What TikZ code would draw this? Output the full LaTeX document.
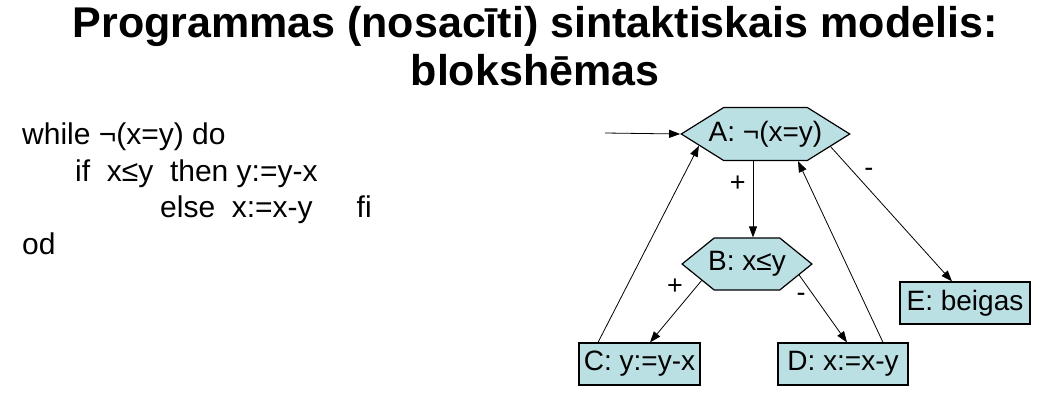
\documentclass[tikz,border=0pt]{standalone}
\usepackage{fontspec}
\setmainfont{Liberation Sans}
\usetikzlibrary{arrows.meta,shapes.symbols}
\definecolor{blokfill}{RGB}{187,224,227}

\begin{document}
\begin{tikzpicture}[x=1pt,y=-1pt,
    title/.style = {font=\fontsize{43}{48}\selectfont\bfseries, inner sep=0pt},
    code/.style = {font=\fontsize{30}{36}\selectfont, inner sep=0pt, anchor=base west},
    hexa/.style = {shape=signal, signal to=west and east,
      draw, line width=1.2pt, fill=blokfill, inner ysep=2pt,
      font=\fontsize{28}{32}\selectfont},
    blok/.style = {shape=rectangle, draw, line width=1.2pt, fill=blokfill,
      minimum height=42pt, inner sep=2pt, font=\fontsize{28}{32}\selectfont},
    lbl/.style = {font=\fontsize{27}{30}\selectfont, inner sep=1pt},
    arr/.style = {-{Triangle[length=11pt,width=8pt]}, line width=0.8pt}]
    \useasboundingbox (0,0) rectangle (1049,413);

    \node (title1) [title, anchor=base] at (535,37) {Programmas (nosacīti) sintaktiskais modelis:};
    \node (title2) [title, anchor=base] at (535,85) {blokshēmas};

    \node (line1) [code] at (22,144) {while ¬(x=y) do};
    \node (line2) [code] at (75,181) {if\ \ x≤y\ \ then y:=y-x};
    \node (line3) [code] at (160,217) {else\ \ x:=x-y\hspace{44pt}fi};
    \node (line4) [code] at (22,254) {od};

    \node (A) [hexa, signal pointer angle=64, inner xsep=-15pt, minimum height=53pt] at (765.5,134) {A: ¬(x=y)};
    \node (B) [hexa, signal pointer angle=78, inner xsep=-6pt, minimum height=52pt] at (747,264) {B: x≤y};
    \node (C) [blok, minimum width=121pt] at (639.5,364) {C: y:=y-x};
    \node (D) [blok, minimum width=130pt] at (843,364) {D: x:=x-y};
    \node (E) [blok, minimum width=130pt] at (965,303) {E: beigas};

    \coordinate (start) at (605,133);
    \draw[arr] (start) -- (A.west);
    \draw[arr] ([xshift=-12.5pt]A.south) -- node[lbl, pos=.3, left=6pt] {+} ([xshift=6pt]B.north);
    \draw[arr] (A.-11) -- node[lbl, pos=.25, above right=2pt] {-} ([xshift=-13pt]E.north);
    \draw[arr] (B.-160) -- node[lbl, pos=.1, left=12pt] {+} ([xshift=10.5pt]C.north);
    \draw[arr] (B.-12) -- node[lbl, pos=.33, left=8pt] {-} ([xshift=4pt]D.north);
    \draw[arr] ([xshift=-41.5pt]C.north) -- (A.190);
    \draw[arr] ([xshift=40pt]D.north) -- ([xshift=32.5pt]A.south);

  \end{tikzpicture}
\end{document}
